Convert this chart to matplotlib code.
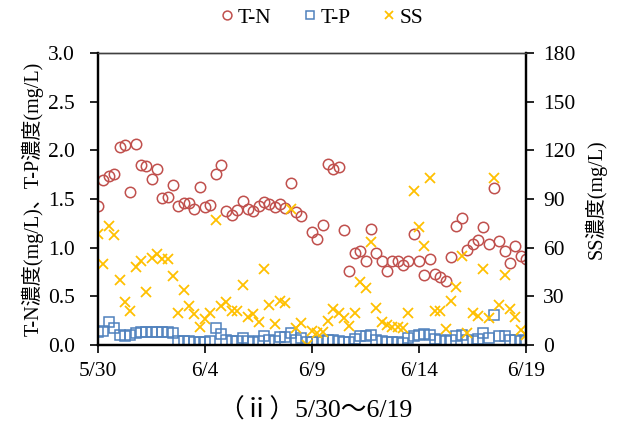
import numpy as np
import pandas as pd
import matplotlib
matplotlib.use("Agg")
import matplotlib.pyplot as plt

plt.rcParams['font.family'] = ['Liberation Serif', 'Noto Sans CJK JP', 'DejaVu Sans']

# 6-hourly samples, 5/30 0:00 - 6/19 0:00
t = pd.date_range("2020-05-30", "2020-06-19", freq="6h")

tn = [1.43, 1.70, 1.74, 1.76, 2.04, 2.06, 1.57, 2.07, 1.85, 1.84,
      1.71, 1.81, 1.51, 1.52, 1.64, 1.43, 1.46, 1.46, 1.40, 1.62,
      1.42, 1.44, 1.76, 1.85, 1.38, 1.34, 1.39, 1.48, 1.40, 1.38,
      1.43, 1.47, 1.45, 1.42, 1.45, 1.41, 1.67, 1.37, 1.33, np.nan,
      1.16, 1.09, 1.23, 1.86, 1.81, 1.83, 1.18, 0.76, 0.95, 0.97,
      0.86, 1.19, 0.95, 0.86, 0.76, 0.86, 0.86, 0.82, 0.86, 1.14,
      0.86, 0.72, 0.88, 0.73, 0.70, 0.66, 0.91, 1.22, 1.31, 0.98,
      1.04, 1.08, 1.21, 1.04, 1.61, 1.07, 0.97, 0.84, 1.02, 0.92,
      0.88]

tp = [0.13, 0.15, 0.24, 0.18, 0.10, 0.09, 0.10, 0.12, 0.13, 0.13,
      0.13, 0.13, 0.13, 0.13, 0.12, 0.04, 0.04, 0.04, 0.03, 0.03,
      0.03, 0.04, 0.18, 0.11, 0.05, 0.04, 0.04, 0.07, 0.04, 0.03,
      0.04, 0.09, 0.05, 0.04, 0.08, 0.08, 0.12, 0.05, 0.07, 0.03,
      0.03, 0.03, 0.04, 0.05, 0.05, 0.04, 0.03, 0.03, 0.06, 0.09,
      0.09, 0.10, 0.05, 0.04, 0.03, 0.03, 0.03, 0.02, 0.07, 0.09,
      0.10, 0.11, 0.10, 0.06, 0.05, 0.04, 0.05, 0.09, 0.10, 0.05,
      0.04, 0.06, 0.12, 0.07, 0.31, 0.09, 0.09, 0.05, 0.05, 0.04,
      0.05]

ss = [68.2, 49.9, 73.4, 67.8, 40.1, 26.7, 21.0, 47.9, 52.0, 32.9,
      54.0, 55.9, 52.8, 53.0, 42.9, 19.9, 34.1, 24.0, 18.9, 11.3,
      16.2, 19.9, 77.1, 24.2, 26.3, 21.2, 21.2, 37.0, 17.1, 18.9,
      14.0, 47.1, 24.7, 12.7, 27.1, 25.9, 84.2, 10.3, 13.4, 0.0,
      8.8, 7.2, 7.8, 14.8, 22.0, 19.9, 16.8, 11.7, 19.9, 38.6,
      35.5, 63.7, 23.0, 14.0, 12.3, 10.9, 11.3, 10.3, 19.9, 95.1,
      72.9, 61.0, 103.2, 21.0, 21.0, 9.9, 27.1, 36.0, 54.9, 7.2,
      19.9, 17.9, 47.1, 16.8, 103.2, 24.7, 43.2, 22.0, 17.1, 9.2,
      6.2]

red = "#C0504D"
blue = "#4F81BD"
yellow = "#FFC000"

fig = plt.figure(figsize=(6.21, 4.25), dpi=100)
ax = fig.add_axes([0.158, 0.188, 0.689, 0.687])
ax2 = ax.twinx()

l1, = ax.plot(t, tn, ls="none", marker="o", ms=7.5, mfc="none", mec=red, mew=1.1, label="T-N")
l2, = ax.plot(t, tp, ls="none", marker="s", ms=7.5, mfc="none", mec=blue, mew=1.1, label="T-P")
l3, = ax2.plot(t, ss, ls="none", marker="x", ms=7.5, mec=yellow, mew=1.3, label="SS")

ax.set_xlim(pd.Timestamp("2020-05-30"), pd.Timestamp("2020-06-19"))
ax.set_ylim(0, 3.0)
ax2.set_ylim(0, 180)
yt = np.arange(0, 3.01, 0.5)
ax.set_yticks(yt)
ax.set_yticklabels([f"{v:.1f}" for v in yt])
ax2.set_yticks(np.arange(0, 181, 30))

ticks = pd.date_range("2020-05-30", "2020-06-19", freq="5D")
ax.set_xticks(ticks)
ax.set_xticklabels([f"{d.month}/{d.day}" for d in ticks])

for a in (ax, ax2):
    a.tick_params(direction="out", length=5.5, width=1.2, labelsize=15.5)
    for s in ("left", "right", "bottom"):
        a.spines[s].set_linewidth(1.6)
    a.spines["top"].set_color("#404040")
    a.spines["top"].set_linewidth(1.0)
ax.tick_params(axis="x", pad=7)
ax.tick_params(axis="y", pad=11)
ax2.tick_params(axis="y", pad=7)

ax.set_ylabel("T-N濃度(mg/L)、T-P濃度(mg/L)", fontsize=14.5, labelpad=3)
ax2.set_ylabel("SS濃度(mg/L)", fontsize=14.5, labelpad=6)

fig.legend(handles=[l1, l2, l3], loc="center", bbox_to_anchor=(0.515, 0.958), ncol=3,
           frameon=False, fontsize=15.5, handletextpad=0.0, columnspacing=1.3,
           markerscale=0.85, handlelength=1.0)

fig.text(0.508, 0.035, "（ⅱ）5/30～6/19", ha="center", va="center", fontsize=18.5)

fig.savefig("out.png", dpi=100)
